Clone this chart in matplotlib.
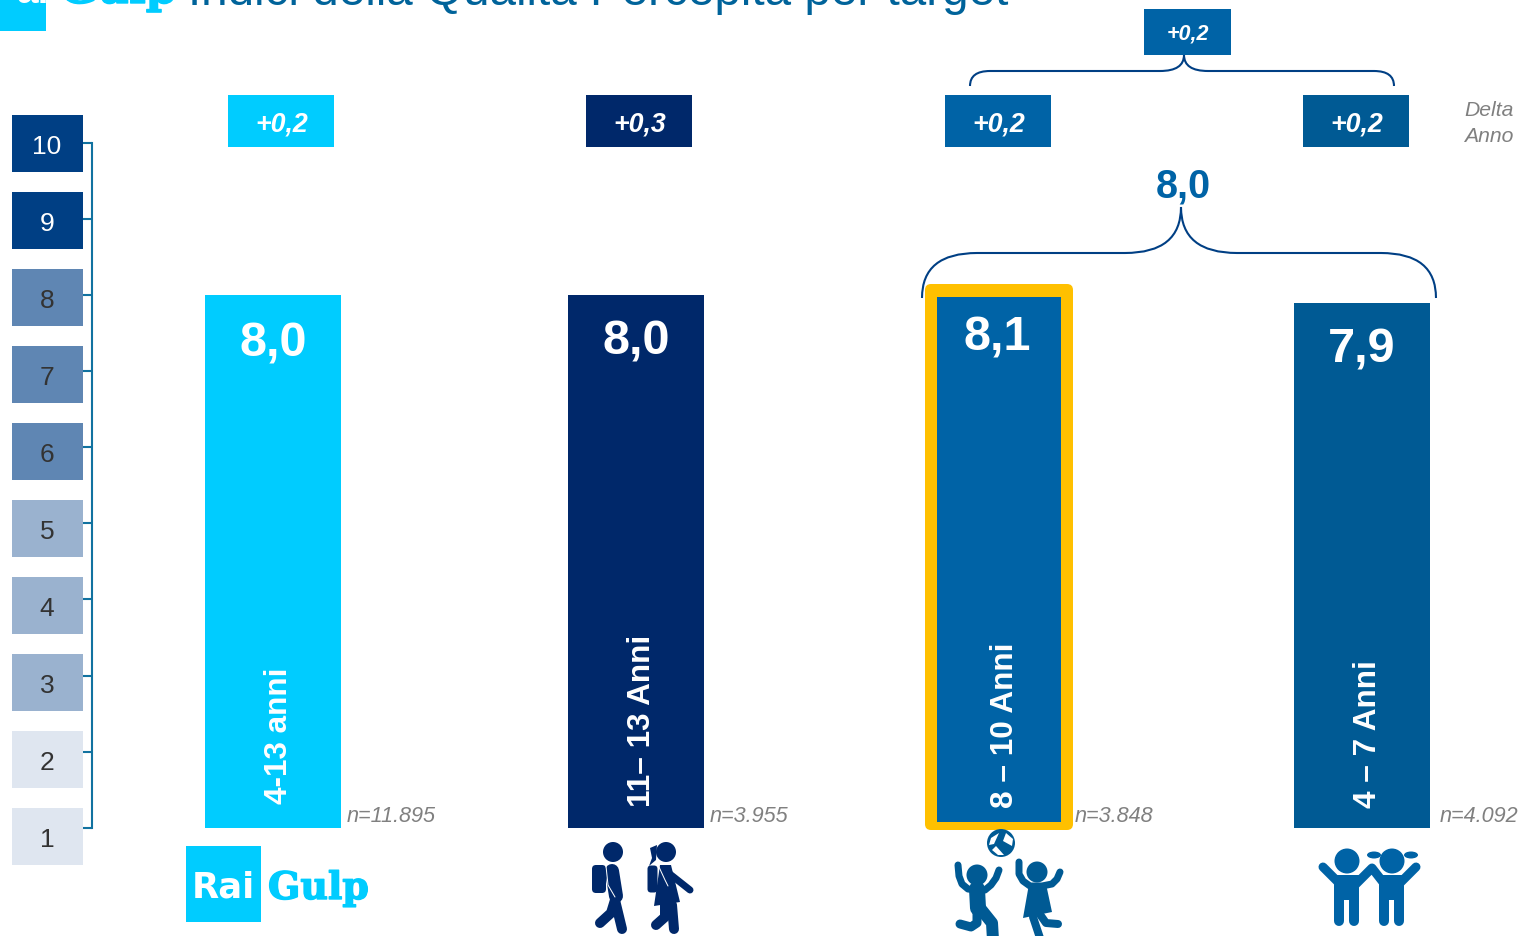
import matplotlib
matplotlib.use('Agg')
import matplotlib.pyplot as plt
import matplotlib.patheffects as pe
from matplotlib.patches import Rectangle, Circle, Polygon, PathPatch, FancyBboxPatch, Ellipse
from matplotlib.path import Path

plt.rcParams['font.family'] = ['Liberation Sans', 'DejaVu Sans']

# ---------- data ----------
title = 'Indici della Qualità Percepita per target'
scale_levels = [10, 9, 8, 7, 6, 5, 4, 3, 2, 1]
scale_colors = ['#003F84', '#003F84', '#5F86B3', '#5F86B3', '#5F86B3',
                '#9AB2CF', '#9AB2CF', '#9AB2CF', '#DFE6F0', '#DFE6F0']
scale_text = ['white', 'white', '#333333', '#333333', '#333333',
              '#333333', '#333333', '#333333', '#333333', '#333333']
targets = ['4-13 anni', '11– 13 Anni', '8 – 10 Anni', '4 – 7 Anni']
values = [8.0, 8.0, 8.1, 7.9]
value_labels = ['8,0', '8,0', '8,1', '7,9']
sample_labels = ['n=11.895', 'n=3.955', 'n=3.848', 'n=4.092']
delta_labels = ['+0,2', '+0,3', '+0,2', '+0,2']
bar_colors = ['#00CCFF', '#00286A', '#0063A6', '#005A94']
group_value = '8,0'
group_delta = '+0,2'

W, H = 1519, 936
BASE_PX, STEP_PX = 827.7, 76.1   # pixel row of level 1, pixels per level


def px_to_val(p):
    return 1 + (BASE_PX - p) / STEP_PX


fig = plt.figure(figsize=(W / 100, H / 100), dpi=100, facecolor='white')
ax = fig.add_axes([0, 0, 1, 1])
ax.set_xlim(0, W)
ax.set_ylim(px_to_val(H), px_to_val(0))
ax.axis('off')
# overlay in pixel coordinates for annotation shapes
px = fig.add_axes([0, 0, 1, 1], zorder=5)
px.set_xlim(0, W)
px.set_ylim(H, 0)
px.axis('off')
px.patch.set_alpha(0)

# ---------- bars ----------
centers = [273, 636, 999, 1362]
ax.bar(centers, [v - 1 for v in values], bottom=1, width=136, color=bar_colors, linewidth=0)

# ---------- scale column ----------
for i, (lev, c, tc) in enumerate(zip(scale_levels, scale_colors, scale_text)):
    top = 115 + 77 * i
    px.add_patch(Rectangle((12, top), 71, 57, fc=c, ec='none'))
    px.text(47, top + 32, str(lev), color=tc, fontsize=19, ha='center', va='center')
AXC = '#1172A0'
ax.plot([91.5, 91.5], [min(scale_levels), max(scale_levels)], color=AXC, lw=1.5, solid_capstyle='projecting')
for lev in scale_levels:
    ax.plot([83, 91.5], [lev, lev], color=AXC, lw=1.5, solid_capstyle='butt')


# ---------- highlight frame ----------
def frame_path(x0, y0, x1, y1, r, a0, b0, a1, b1):
    vo = [(x0 + r, y0), (x1 - r, y0), (x1, y0), (x1, y0 + r), (x1, y1 - r), (x1, y1), (x1 - r, y1),
          (x0 + r, y1), (x0, y1), (x0, y1 - r), (x0, y0 + r), (x0, y0), (x0 + r, y0), (x0 + r, y0)]
    co = [Path.MOVETO, Path.LINETO, Path.CURVE3, Path.CURVE3, Path.LINETO, Path.CURVE3, Path.CURVE3,
          Path.LINETO, Path.CURVE3, Path.CURVE3, Path.LINETO, Path.CURVE3, Path.CURVE3, Path.CLOSEPOLY]
    vi = [(a0, b0), (a0, b1), (a1, b1), (a1, b0), (a0, b0)]
    ci = [Path.MOVETO, Path.LINETO, Path.LINETO, Path.LINETO, Path.CLOSEPOLY]
    return Path(vo + vi, co + ci)


px.add_patch(PathPatch(frame_path(925, 284, 1073, 830, 6, 937, 297, 1061, 822), fc='#FFC000', ec='none'))

# ---------- bar texts ----------
val_y = [344, 342, 338, 350]
val_x = [273, 636, 997, 1362]
for x, y, t in zip(val_x, val_y, value_labels):
    px.text(x, y, t, color='white', fontsize=35, fontweight='bold', ha='center', va='center')
lab_x = [279, 642, 1005, 1368]
lab_y = [804, 807, 808, 808]
for x, y, t in zip(lab_x, lab_y, targets):
    px.text(x, y, t, color='white', fontsize=22.7, fontweight='bold', rotation=90, ha='center', va='bottom')
for x, t in zip([347, 710, 1075, 1440], sample_labels):
    px.text(x, 816, t, color='#808080', fontsize=15.6, style='italic', ha='left', va='center')

# ---------- delta boxes ----------
dx = [228, 586, 945, 1303]
for x, t, c in zip(dx, delta_labels, bar_colors):
    px.add_patch(Rectangle((x, 95), 106, 52, fc=c, ec='none'))
    px.text(x + 54, 124, t, color='white', fontsize=19.3, fontweight='bold', style='italic',
            ha='center', va='center')
px.add_patch(Rectangle((1144, 9), 87, 46, fc='#0063A6', ec='none'))
px.text(1188, 34, group_delta, color='white', fontsize=15.5, fontweight='bold', style='italic',
        ha='center', va='center')
px.text(1464.5, 110, 'Delta', color='#808080', fontsize=15.2, style='italic', ha='left', va='center')
px.text(1464.5, 136, 'Anno', color='#808080', fontsize=15.2, style='italic', ha='left', va='center')
px.text(1183, 187, group_value, color='#0063A6', fontsize=28.5, fontweight='bold', ha='center', va='center')


# ---------- braces ----------
def brace(xl, xm, xr, yt, yb, yend, rx, my):
    C3, L = Path.CURVE3, Path.LINETO
    v = [(xl, yend), (xl, yb), (xl + rx, yb), (xm - my, yb), (xm, yb), (xm, yt),
         (xm, yb), (xm + my, yb), (xr - rx, yb), (xr, yb), (xr, yend)]
    c = [Path.MOVETO, C3, C3, L, C3, C3, C3, C3, L, C3, C3]
    px.add_patch(PathPatch(Path(v, c), fc='none', ec='#003F84', lw=1.5))


brace(970, 1184, 1394, 55, 71, 86, 20, 24)
brace(922, 1181, 1436, 207, 253, 298, 55, 56)

# ---------- clipped header ----------
fat = [pe.withStroke(linewidth=1.0, foreground='#00CCFF')]
px.text(188, 5, title, color='#00639A', fontsize=34.3, ha='left', va='baseline')
px.add_patch(Rectangle((0, -5), 46, 36, fc='#00CCFF', ec='none'))
px.text(33, 3, 'ai', color='white', fontsize=28, fontweight='bold', ha='center', va='baseline')
px.text(60, 3, 'Gulp', color='#00CCFF', fontsize=31.5, fontweight='bold', family='DejaVu Serif',
        ha='left', va='baseline', path_effects=fat)

# ---------- Rai Gulp logo ----------
px.add_patch(Rectangle((186, 846), 75, 76, fc='#00CCFF', ec='none'))
px.text(223.5, 898, 'Rai', color='white', fontsize=25.5, fontweight='bold', family='DejaVu Sans',
        ha='center', va='baseline')
px.text(268, 899, 'Gulp', color='#00CCFF', fontsize=27.3, fontweight='bold', family='DejaVu Serif',
        ha='left', va='baseline', path_effects=fat)


# ---------- pictograms ----------
def limb(pts, c, w):
    xs, ys = zip(*pts)
    px.plot(xs, ys, color=c, lw=w * 0.72, solid_capstyle='round', solid_joinstyle='round')


def head(x, y, r, c):
    px.add_patch(Circle((x, y), r, fc=c, ec='none'))


NAVY, BLUE, MID = '#00286A', '#0063A6', '#005A94'
# boy with backpack
head(613, 852, 10, NAVY)
px.add_patch(FancyBboxPatch((596, 869), 6, 20, boxstyle='round,pad=4', fc=NAVY, ec='none'))
limb([(612, 871), (616, 896)], NAVY, 14)
limb([(615, 900), (622, 929)], NAVY, 10)
limb([(615, 900), (611, 913), (600, 923)], NAVY, 10)
limb([(606, 866), (608, 885), (615, 897)], 'white', 1)
# girl with backpack
head(666, 852, 10, NAVY)
px.add_patch(Polygon([(657, 845), (650, 848), (652, 858), (649, 866), (656, 860)], fc=NAVY, ec='none'))
px.add_patch(FancyBboxPatch((651, 869), 3, 20, boxstyle='round,pad=3.5', fc=NAVY, ec='none'))
px.add_patch(Polygon([(660, 865), (671, 865), (680, 902), (654, 906)], fc=NAVY, ec='none'))
limb([(666, 871), (690, 890)], NAVY, 7)
limb([(672, 905), (674, 929)], NAVY, 10)
limb([(665, 905), (665, 917), (656, 925)], NAVY, 10)
limb([(659, 867), (665, 880), (668, 886)], 'white', 1)

# ball
head(1001, 843, 14, MID)
px.add_patch(Polygon([(999, 833), (991, 838), (989, 845), (994, 844)], fc='white', ec='none'))
px.add_patch(Polygon([(1003, 841), (1012, 846), (1013, 839), (1006, 833)], fc='white', ec='none'))
px.add_patch(Polygon([(996, 846), (992, 850), (998, 855), (1004, 855)], fc='white', ec='none'))
# kid with ball, left
head(977, 875, 10.5, MID)
limb([(958, 865), (959, 876), (962, 884), (968, 889), (976, 890), (985, 890), (991, 885), (996, 878), (999, 870)], MID, 7)
limb([(977, 889), (978, 908)], MID, 16)
limb([(980, 908), (992, 923), (993, 940)], MID, 12)
limb([(977, 910), (977, 923), (971, 927), (960, 924)], MID, 9)
# kid with ball, right
head(1037, 872, 10.5, MID)
limb([(1019, 862), (1019, 874), (1023, 881), (1030, 886), (1042, 886), (1052, 884), (1057, 879), (1060, 872)], MID, 7)
px.add_patch(Polygon([(1029, 884), (1046, 884), (1052, 912), (1023, 918)], fc=MID, ec='none'))
limb([(1033, 917), (1040, 938)], MID, 8)
limb([(1039, 913), (1046, 923), (1058, 924)], MID, 8)

# two children holding hands
head(1347, 861, 12.5, BLUE)
head(1392, 861, 12.5, BLUE)
px.add_patch(Ellipse((1374, 855), 14, 7, fc=BLUE, ec='none'))
px.add_patch(Ellipse((1411, 855), 14, 7, fc=BLUE, ec='none'))
for x0, x1, g0, g1 in [(1334, 1359, 1344, 1349), (1379, 1404, 1389, 1394)]:
    px.add_patch(Rectangle((x0, 875), x1 - x0, 25, fc=BLUE, ec='none'))
    limb([((x0 + g0) / 2, 895), ((x0 + g0) / 2, 921)], BLUE, g0 - x0)
    limb([((x1 + g1) / 2, 895), ((x1 + g1) / 2, 921)], BLUE, x1 - g1)
limb([(1323, 867), (1340, 884)], BLUE, 9)
limb([(1354, 886), (1372, 868), (1386, 886)], BLUE, 9)
limb([(1416, 867), (1399, 884)], BLUE, 9)

fig.savefig('out.png', dpi=100)
